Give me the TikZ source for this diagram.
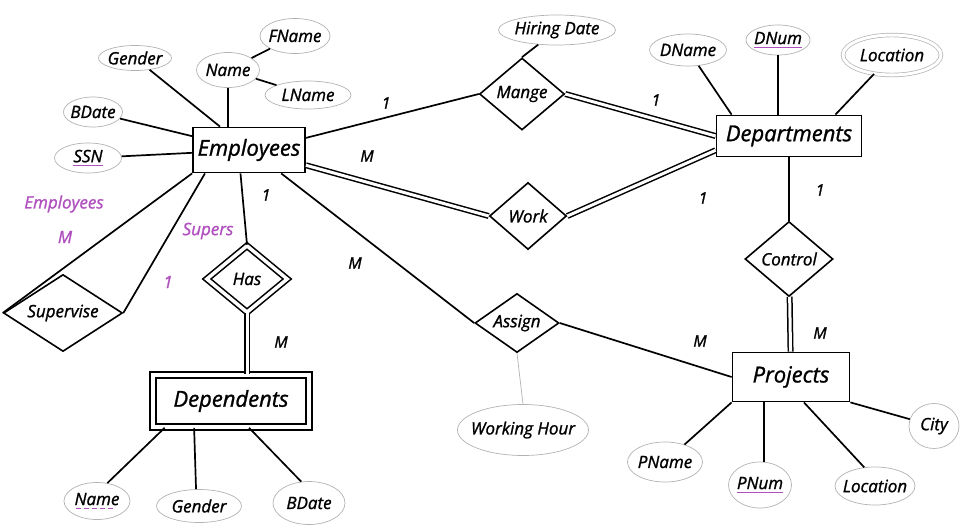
\documentclass[tikz,border=0pt]{standalone}
\usepackage{fontspec}
\setmainfont{Open Sans}[ItalicFeatures={FakeBold=1.2}]
\usetikzlibrary{shapes.geometric}
\definecolor{rolecol}{RGB}{176,80,190}
% key attributes: purple underline, dashed for a partial key
\newlength\keylen
\newcommand\keyul[1]{\settowidth\keylen{#1}\rlap{\textcolor{rolecol}{\rule[-4pt]{\keylen}{1.2pt}}}#1}
\newcommand\partkeyul[1]{\settowidth\keylen{#1}\rlap{\textcolor{rolecol}{\leaders\hbox to 8pt{\hss\rule[-4pt]{5pt}{1.2pt}\hss}\hskip\keylen}}#1}

\begin{document}
\begin{tikzpicture}[x=1pt, y=-1pt,
  entity/.style={draw, line width=1.8pt, inner sep=0pt, font=\fontsize{22}{26}\selectfont\itshape},
  weak/.style={entity, double, line width=1.6pt, double distance=4pt},
  rel/.style={diamond, draw, line width=1.6pt, inner sep=0pt, aspect=1.3, font=\fontsize{17}{20}\selectfont\itshape},
  idrel/.style={rel, double, double distance=3.5pt},
  attr/.style={ellipse, draw=gray!60, line width=0.7pt, inner ysep=0pt, inner xsep=-10pt, font=\fontsize{17}{20}\selectfont\itshape},
  multi/.style={attr, double, double distance=3pt},
  link/.style={line width=1.7pt},
  total/.style={line width=1.5pt, double, double distance=3pt},
  card/.style={font=\fontsize{16}{19}\selectfont\itshape},
  role/.style={card, font=\fontsize{17}{20}\selectfont\itshape, text=rolecol}]
  \useasboundingbox (0,0) rectangle (970,531);

  % Entities
  \node[entity, minimum width=112pt, minimum height=45pt] (emp) at (249,150) {Employees};
  \node[entity, minimum width=145pt, minimum height=41pt] (dept) at (789,136) {Departments};
  \node[entity, minimum width=117pt, minimum height=49pt] (proj) at (791,377) {Projects};
  \node[weak, minimum width=156pt, minimum height=52pt] (dep) at (231,401) {Dependents};

  % Relationships
  \node[rel, minimum width=85pt, minimum height=72pt] (mange) at (522,94) {Mange};
  \node[rel, minimum width=77pt, minimum height=67pt] (work) at (528,216) {Work};
  \node[rel, minimum width=88pt, minimum height=75pt] (ctrl) at (789,259) {Control};
  \node[rel, minimum width=84pt, minimum height=59pt, aspect=1.45] (assign) at (517,323) {Assign};
  \node[rel, minimum width=119pt, minimum height=77pt, aspect=1.55] (sup) at (63,313) {Supervise};
  \node[idrel, minimum width=81pt, minimum height=67pt] (has) at (247,279) {Has};

  % Attributes of Employees
  \node[attr, minimum width=73pt, minimum height=25pt] (egender) at (135,58) {Gender};
  \node[attr, minimum width=63pt, minimum height=35pt] (ename) at (228,70) {Name};
  \node[attr, minimum width=70pt, minimum height=35pt] (fname) at (295,36) {FName};
  \node[attr, minimum width=86pt, minimum height=28pt] (lname) at (308,95) {LName};
  \node[attr, minimum width=59pt, minimum height=30pt] (ebdate) at (93,112) {BDate};
  \node[attr, minimum width=67pt, minimum height=30pt] (ssn) at (88,158) {\keyul{SSN}};

  % Attributes of Mange, Departments, Assign
  \node[attr, minimum width=117pt, minimum height=30pt] (hiring) at (557,30) {Hiring Date};
  \node[attr, minimum width=77pt, minimum height=32pt] (dname) at (688,50) {DName};
  \node[attr, minimum width=64pt, minimum height=30pt] (dnum) at (778,40) {\keyul{DNum}};
  \node[multi, minimum width=98pt, minimum height=40pt] (dloc) at (892,55) {Location};
  \node[attr, minimum width=131pt, minimum height=51pt] (whour) at (523,430) {Working Hour};

  % Attributes of Projects
  \node[attr, minimum width=75pt, minimum height=40pt] (pname) at (665,462) {PName};
  \node[attr, minimum width=63pt, minimum height=46pt] (pnum) at (760,485) {\keyul{PNum}};
  \node[attr, minimum width=80pt, minimum height=38pt] (ploc) at (875,486) {Location};
  \node[attr, minimum width=50pt, minimum height=45pt] (city) at (934,426) {City};

  % Attributes of Dependents
  \node[attr, minimum width=66pt, minimum height=37pt] (depname) at (97,501) {\partkeyul{Name}};
  \node[attr, minimum width=85pt, minimum height=33pt] (depgender) at (199,506) {Gender};
  \node[attr, minimum width=72pt, minimum height=43pt] (depbdate) at (309,503) {BDate};

  % Attribute links
  \draw[link] (emp) -- (egender);
  \draw[link] (ename.south) -- (ename.south |- emp.north);
  \draw[link] (ename) -- (fname);
  \draw[link] (ename) -- (lname);
  \draw[link] (emp) -- (ebdate);
  \draw[link] (emp) -- (ssn);
  \draw[link] (mange.north) -- (hiring);
  \draw[link] ([xshift=16pt]dept.north west) -- (dname);
  \draw[link] (dnum.south) -- (dnum.south |- dept.north);
  \draw[link] ([xshift=-27pt]dept.north east) -- (dloc);
  \draw[gray!60, line width=0.7pt] (assign.south) -- (whour.north);
  \draw[link] (proj.south west) -- (pname);
  \draw[link] (pnum.80) -- (pnum.80 |- proj.south);
  \draw[link] (proj.-63) -- (ploc.120);
  \draw[link] (proj.south east) -- (city);
  \draw[link] (dep.-158) -- (depname.60);
  \draw[link] (dep.-144) -- (depgender.100);
  \draw[link] (dep.-56) -- (depbdate.110);

  % Relationship links
  \draw[link] (emp.12) -- (mange.west);
  \draw[total] (mange.east) -- (dept.west);
  \draw[total] (emp.-15) -- (work.west);
  \draw[total] (work.east) -- (dept.-169);
  \draw[link] (dept) -- (ctrl);
  \draw[total] (ctrl) -- (proj);
  \draw[link] (emp.-36) -- (assign.west);
  \draw[link] (assign.east) -- (proj.west);
  \draw[link] (emp.-110) -- (has.north);
  \draw[total] (has.south) -- (has.south |- dep.north);
  \draw[link] (emp.south west) -- (sup.west);
  \draw[link] (emp.-152) -- (sup.east);

  % Cardinalities
  \node[card] (c1) at (386,103) {1};
  \node[card] (c2) at (656,100) {1};
  \node[card] (c3) at (367,156) {M};
  \node[card] (c4) at (703,198) {1};
  \node[card] (c5) at (820,190) {1};
  \node[card] (c6) at (820,333) {M};
  \node[card] (c7) at (700,341) {M};
  \node[card] (c8) at (355,263) {M};
  \node[card] (c9) at (266,195) {1};
  \node[card] (c10) at (281,342) {M};

  % Roles of Supervise
  \node[role] (r1) at (64,204) {Employees};
  \node[role] (r2) at (65,237) {M};
  \node[role] (r3) at (208,231) {Supers};
  \node[role] (r4) at (168,282) {1};
\end{tikzpicture}
\end{document}
